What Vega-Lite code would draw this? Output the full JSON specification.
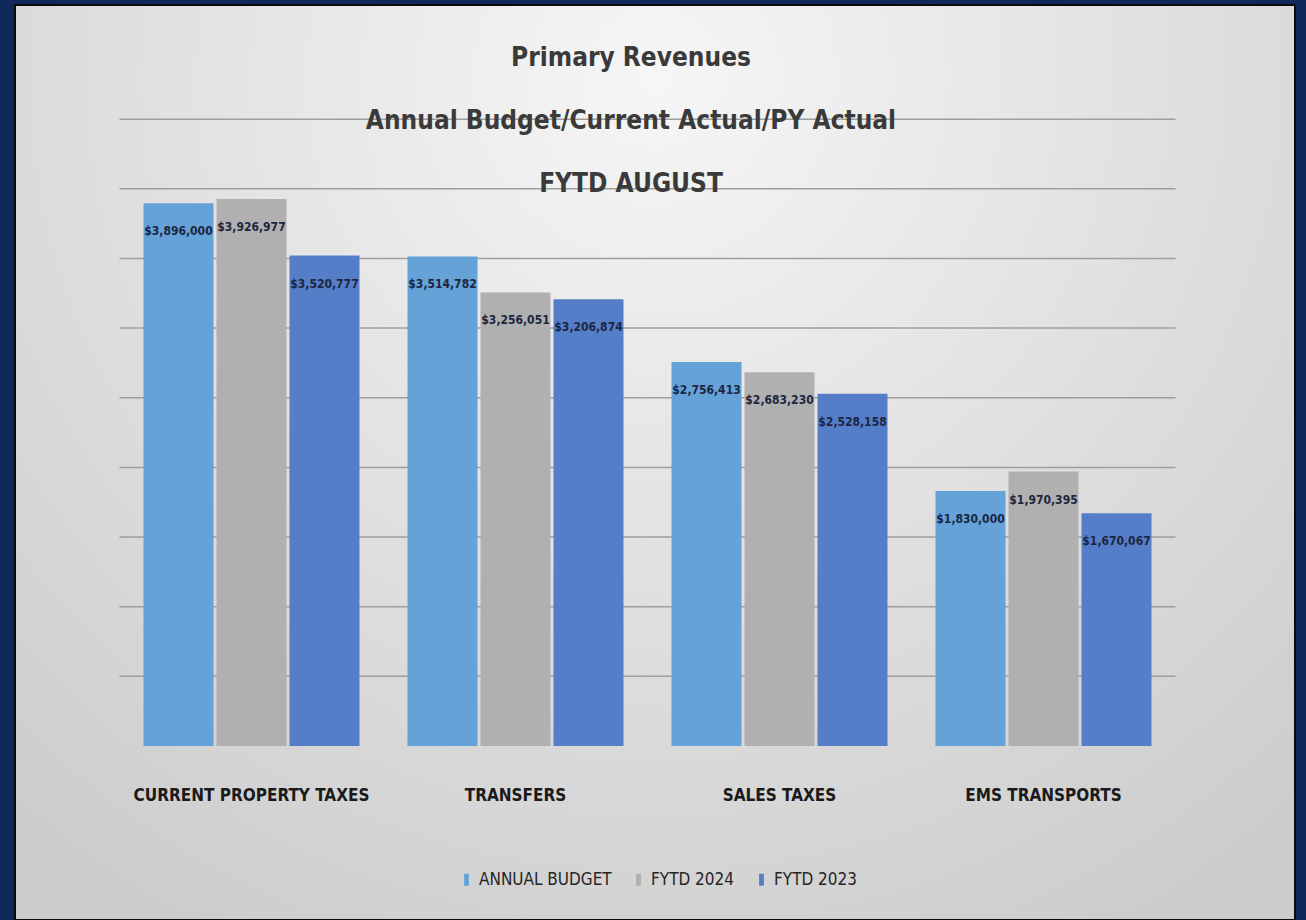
{
  "$schema": "https://vega.github.io/schema/vega-lite/v6.json",
  "width": 1280,
  "height": 915,
  "autosize": {"type": "none"},
  "padding": {"left": 15, "top": 5, "right": 11, "bottom": 0},
  "background": "#10295b",
  "config": {
    "font": "DejaVu Sans Condensed, Liberation Sans, sans-serif",
    "view": {
      "fill": {
        "gradient": "radial",
        "x1": 0.5, "y1": 0.2, "r1": 0,
        "x2": 0.5, "y2": 0.2, "r2": 0.75,
        "stops": [
          {"offset": 0, "color": "#f6f6f6"},
          {"offset": 1, "color": "#cdcdcd"}
        ]
      },
      "stroke": "#0a0a0a",
      "strokeWidth": 2
    }
  },
  "title": {
    "text": ["Primary Revenues", "Annual Budget/Current Actual/PY Actual", "FYTD AUGUST"],
    "orient": "top",
    "anchor": "middle",
    "frame": "group",
    "baseline": "top",
    "offset": -192,
    "dx": -24,
    "lineHeight": 63,
    "font": "DejaVu Sans Condensed, Liberation Sans, sans-serif",
    "fontSize": 26,
    "fontWeight": "bold",
    "color": "#3a3a3a"
  },
  "datasets": {
    "bars": [
      {"category": "CURRENT PROPERTY TAXES", "series": "ANNUAL BUDGET", "amount": 3896000},
      {"category": "CURRENT PROPERTY TAXES", "series": "FYTD 2024", "amount": 3926977},
      {"category": "CURRENT PROPERTY TAXES", "series": "FYTD 2023", "amount": 3520777},
      {"category": "TRANSFERS", "series": "ANNUAL BUDGET", "amount": 3514782},
      {"category": "TRANSFERS", "series": "FYTD 2024", "amount": 3256051},
      {"category": "TRANSFERS", "series": "FYTD 2023", "amount": 3206874},
      {"category": "SALES TAXES", "series": "ANNUAL BUDGET", "amount": 2756413},
      {"category": "SALES TAXES", "series": "FYTD 2024", "amount": 2683230},
      {"category": "SALES TAXES", "series": "FYTD 2023", "amount": 2528158},
      {"category": "EMS TRANSPORTS", "series": "ANNUAL BUDGET", "amount": 1830000},
      {"category": "EMS TRANSPORTS", "series": "FYTD 2024", "amount": 1970395},
      {"category": "EMS TRANSPORTS", "series": "FYTD 2023", "amount": 1670067}
    ],
    "grid": [
      {"category": "CURRENT PROPERTY TAXES", "amount": [500000, 1000000, 1500000, 2000000, 2500000, 3000000, 3500000, 4000000, 4500000]},
      {"category": "TRANSFERS", "amount": [500000, 1000000, 1500000, 2000000, 2500000, 3000000, 3500000, 4000000, 4500000]},
      {"category": "SALES TAXES", "amount": [500000, 1000000, 1500000, 2000000, 2500000, 3000000, 3500000, 4000000, 4500000]},
      {"category": "EMS TRANSPORTS", "amount": [500000, 1000000, 1500000, 2000000, 2500000, 3000000, 3500000, 4000000, 4500000]}
    ]
  },
  "encoding": {
    "x": {
      "field": "category",
      "type": "nominal",
      "scale": {
        "domain": ["CURRENT PROPERTY TAXES", "TRANSFERS", "SALES TAXES", "EMS TRANSPORTS"],
        "paddingInner": 0,
        "paddingOuter": 0.4242,
        "align": 0.4665
      },
      "axis": {
        "title": null,
        "orient": "bottom",
        "offset": -174,
        "domain": false,
        "ticks": false,
        "tickSize": 0,
        "grid": false,
        "labelAngle": 0,
        "labelBaseline": "middle",
        "labelPadding": 49,
        "labelLimit": 0,
        "labelFont": "DejaVu Sans Condensed, Liberation Sans, sans-serif",
        "labelFontSize": 17,
        "labelFontWeight": "bold",
        "labelColor": "#1a1a1a"
      }
    },
    "y": {
      "field": "amount",
      "type": "quantitative",
      "scale": {"domain": [-1249100, 5319500], "nice": false, "zero": false},
      "axis": null
    }
  },
  "layer": [
    {
      "data": {"name": "grid"},
      "transform": [{"flatten": ["amount"]}],
      "mark": {"type": "tick", "size": 264, "thickness": 1.5, "color": "#9e9e9e", "opacity": 1},
      "encoding": {}
    },
    {
      "data": {"name": "bars"},
      "mark": {"type": "bar"},
      "encoding": {
        "y2": {"datum": 0},
        "xOffset": {
          "field": "series",
          "type": "nominal",
          "scale": {
            "domain": ["ANNUAL BUDGET", "FYTD 2024", "FYTD 2023"],
            "paddingInner": 0.0411,
            "paddingOuter": 0.3288
          }
        },
        "color": {
          "field": "series",
          "type": "nominal",
          "scale": {
            "domain": ["ANNUAL BUDGET", "FYTD 2024", "FYTD 2023"],
            "range": ["#64a2d8", "#b0b0b0", "#557ec9"]
          },
          "legend": {
            "orient": "none",
            "legendX": 443,
            "legendY": 866,
            "direction": "horizontal",
            "title": null,
            "labelFont": "DejaVu Sans Condensed, Liberation Sans, sans-serif",
            "labelFontSize": 17,
            "labelLimit": 0,
            "labelColor": "#262626",
            "symbolType": "M-0.4,-1L0.4,-1L0.4,1L-0.4,1Z",
            "symbolSize": 144,
            "symbolStrokeWidth": 0,
            "labelOffset": 4,
            "columnPadding": 18
          }
        }
      }
    },
    {
      "data": {"name": "grid"},
      "mark": {"type": "tick", "size": 264, "thickness": 3, "color": "#3a3a3a"},
      "encoding": {"y": {"datum": 0}}
    },
    {
      "data": {"name": "bars"},
      "mark": {
        "type": "text",
        "dy": 28,
        "baseline": "middle",
        "align": "center",
        "font": "DejaVu Sans Condensed, Liberation Sans, sans-serif",
        "fontSize": 12,
        "fontWeight": "bold",
        "color": "#1c2640"
      },
      "encoding": {
        "xOffset": {"field": "series", "type": "nominal"},
        "text": {"field": "amount", "type": "quantitative", "format": "$,.0f"}
      }
    }
  ]
}
